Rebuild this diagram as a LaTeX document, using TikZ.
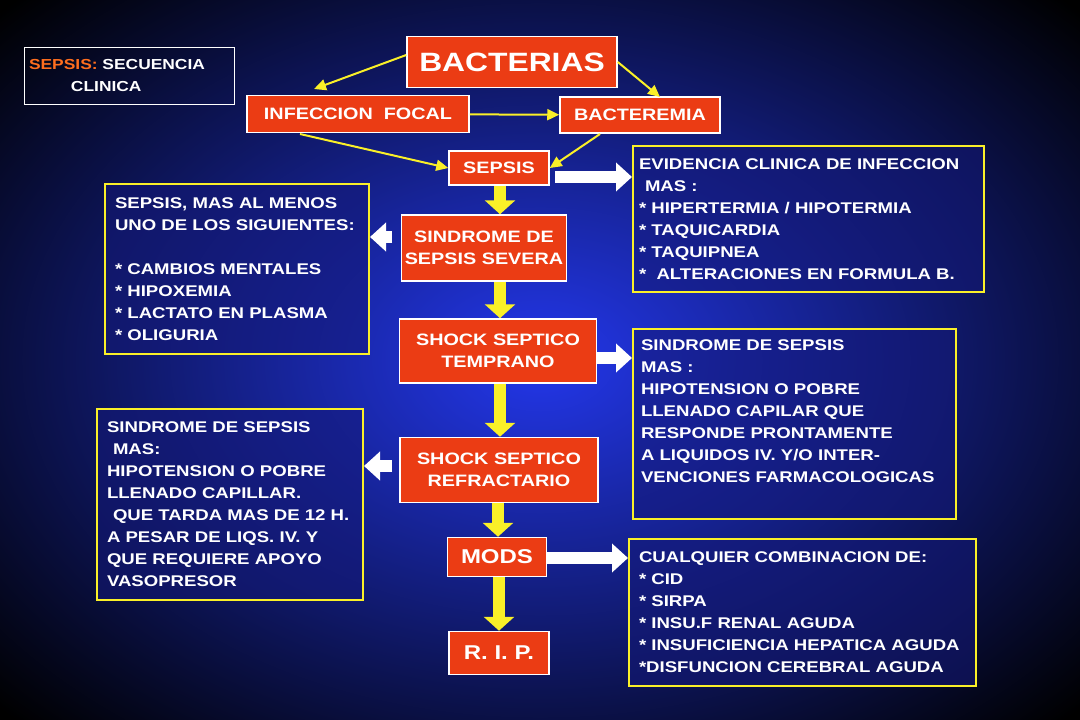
\documentclass[tikz,border=0pt]{standalone}
\usepackage{fontspec}
\setmainfont{Liberation Sans}[FakeStretch=1.2]
\usetikzlibrary{arrows.meta}
\definecolor{boxred}{RGB}{235,60,20}
\definecolor{lineyel}{RGB}{250,240,40}
\definecolor{midblue}{RGB}{35,55,235}
\definecolor{deepblue}{RGB}{20,25,120}
\definecolor{titleorange}{RGB}{255,110,30}
\begin{document}
\begin{tikzpicture}[x=1pt,y=-1pt,
    every node/.style={text=white, font=\bfseries},
    redbox/.style={draw=white, line width=1.5pt, fill=boxred, inner sep=0pt, align=center, font=\bfseries\fontsize{16.5}{22}\selectfont},
    infobox/.style={draw=lineyel, line width=2pt, fill=deepblue, fill opacity=0.55, text opacity=1, anchor=north west, align=left, inner sep=0pt, text width=#1, font=\bfseries\fontsize{15.5}{22}\selectfont},
    thin/.style={lineyel, line width=2pt, -{Triangle[length=12pt,width=11pt]}},
    fatdown/.style={lineyel, line width=12pt, -{Triangle[length=14pt,width=30pt]}},
    fatside/.style={white, line width=12pt, -{Triangle[length=16pt,width=28pt]}}]
\useasboundingbox (0,0) rectangle (1080,720);
\shade[inner color=midblue, outer color=black] (-200,-150) rectangle (1280,870);
% title
\node (title) [draw=white, line width=1pt, minimum width=210pt, minimum height=57pt, inner sep=0pt, text width=200pt, align=left, font=\bfseries\fontsize{14.5}{22}\selectfont] at (129,76)
  {\textcolor{titleorange}{SEPSIS:} SECUENCIA\\\hspace*{42pt}CLINICA};
% main chain
\node (bact) [redbox, minimum width=210pt, minimum height=51pt, font=\bfseries\fontsize{26.5}{30}\selectfont] at (512,62) {BACTERIAS};
\node (foco) [redbox, minimum width=222pt, minimum height=37pt] at (358,114) {INFECCION\ \ FOCAL};
\node (bacte) [redbox, minimum width=160pt, minimum height=36pt] at (640,115) {BACTEREMIA};
\node (sepsis) [redbox, minimum width=100pt, minimum height=34pt] at (499,168) {SEPSIS};
\node (severa) [redbox, minimum width=165pt, minimum height=66pt] at (484,248) {SINDROME DE\\SEPSIS SEVERA};
\node (tempr) [redbox, minimum width=197pt, minimum height=64pt] at (498,351) {SHOCK SEPTICO\\TEMPRANO};
\node (refr) [redbox, minimum width=198pt, minimum height=65pt] at (499,470) {SHOCK SEPTICO\\REFRACTARIO};
\node (mods) [redbox, minimum width=99pt, minimum height=39pt, font=\bfseries\fontsize{20}{24}\selectfont] at (497,557) {MODS};
\node (rip) [redbox, minimum width=100pt, minimum height=43pt, font=\bfseries\fontsize{20}{24}\selectfont] at (499,653) {R. I. P.};
% info boxes
\node (evid) [infobox=351pt, minimum height=146pt] at (632,145) {\hspace*{6pt}EVIDENCIA CLINICA DE INFECCION\\\hspace*{12pt}MAS :\\\hspace*{6pt}* HIPERTERMIA / HIPOTERMIA\\\hspace*{6pt}* TAQUICARDIA\\\hspace*{6pt}* TAQUIPNEA\\\hspace*{6pt}*\ \ ALTERACIONES EN FORMULA B.};
\node (masmenos) [infobox=264pt, minimum height=170pt] at (104,183) {\hspace*{10pt}SEPSIS, MAS AL MENOS\\\hspace*{10pt}UNO DE LOS SIGUIENTES:\\[22pt]\hspace*{10pt}* CAMBIOS MENTALES\\\hspace*{10pt}* HIPOXEMIA\\\hspace*{10pt}* LACTATO EN PLASMA\\\hspace*{10pt}* OLIGURIA};
\node (resp) [infobox=323pt, minimum height=190pt] at (632,328) {\hspace*{8pt}SINDROME DE SEPSIS\\\hspace*{8pt}MAS :\\\hspace*{8pt}HIPOTENSION O POBRE\\\hspace*{8pt}LLENADO CAPILAR QUE\\\hspace*{8pt}RESPONDE PRONTAMENTE\\\hspace*{8pt}A LIQUIDOS IV. Y/O INTER-\\\hspace*{8pt}VENCIONES FARMACOLOGICAS\\[4pt]\mbox{}};
\node (tarda) [infobox=266pt, minimum height=191pt] at (96,408) {\hspace*{10pt}SINDROME DE SEPSIS\\\hspace*{16pt}MAS:\\\hspace*{10pt}HIPOTENSION O POBRE\\\hspace*{10pt}LLENADO CAPILLAR.\\\hspace*{16pt}QUE TARDA MAS DE 12 H.\\\hspace*{10pt}A PESAR DE LIQS. IV. Y\\\hspace*{10pt}QUE REQUIERE APOYO\\\hspace*{10pt}VASOPRESOR};
\node (combi) [infobox=347pt, minimum height=147pt] at (628,538) {\hspace*{10pt}CUALQUIER COMBINACION DE:\\\hspace*{10pt}* CID\\\hspace*{10pt}* SIRPA\\\hspace*{10pt}* INSU.F RENAL AGUDA\\\hspace*{10pt}* INSUFICIENCIA HEPATICA AGUDA\\\hspace*{10pt}*DISFUNCION CEREBRAL AGUDA};
% thin arrows
\draw[thin] (bact.west |- 0,55) -- (314,89);
\draw[thin] (bact.east) -- (660,97);
\draw[thin] (foco) -- (bacte);
\draw[thin] (300,134) -- (sepsis.west);
\draw[thin] (600,134) -- (sepsis.east);
% fat arrows
\draw[fatdown] (sepsis.south -| 500,0) -- (severa.north -| 500,0);
\draw[fatdown] (severa.south -| 500,0) -- (tempr.north -| 500,0);
\draw[fatdown] (tempr.south -| 500,0) -- (refr.north -| 500,0);
\draw[fatdown] (refr.south -| 498,0) -- (mods.north -| 498,0);
\draw[fatdown] (mods.south -| 499,0) -- (rip.north -| 499,0);
\draw[fatside] (555,177) -- (evid.west |- 0,177);
\draw[fatside] (392,237) -- (masmenos.east |- 0,237);
\draw[fatside] (tempr.east |- 0,358) -- (resp.west |- 0,358);
\draw[fatside] (392,466) -- (tarda.east |- 0,466);
\draw[fatside] (mods.east |- 0,558) -- (combi.west |- 0,558);
\end{tikzpicture}
\end{document}
